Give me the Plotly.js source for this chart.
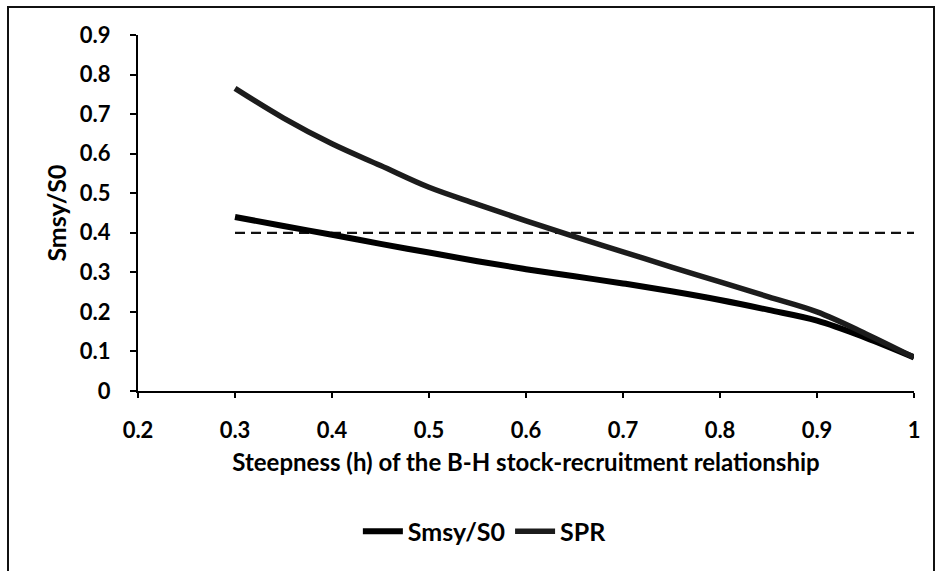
<!DOCTYPE html>
<html>
<head>
<meta charset="utf-8">
<script src="https://cdn.plot.ly/plotly-3.0.1.min.js"></script>
<style>
html,body{margin:0;padding:0;background:#fff;}
#frame{position:absolute;left:7px;top:6px;width:928px;height:580px;border:2px solid #111;border-bottom:none;box-sizing:border-box;}
#chart{position:absolute;left:0;top:0;width:941px;height:571px;}
</style>
</head>
<body>
<div id="frame"></div>
<div id="chart"></div>
<script>
const steepness = [0.3,0.35,0.4,0.45,0.5,0.55,0.6,0.65,0.7,0.75,0.8,0.85,0.9,0.95,1.0];
const smsyS0 = [0.44,0.417,0.395,0.372,0.35,0.328,0.308,0.29,0.272,0.252,0.23,0.205,0.178,0.135,0.085];
const spr = [0.765,0.69,0.625,0.57,0.515,0.472,0.43,0.39,0.352,0.313,0.276,0.238,0.2,0.145,0.085];
const refX = [0.3,1.0];
const refY = [0.4,0.4];
const xTicks = [0.2,0.3,0.4,0.5,0.6,0.7,0.8,0.9,1];
const xTickText = ['0.2','0.3','0.4','0.5','0.6','0.7','0.8','0.9','1'];
const yTicks = [0,0.1,0.2,0.3,0.4,0.5,0.6,0.7,0.8,0.9];
const yTickText = ['0','0.1','0.2','0.3','0.4','0.5','0.6','0.7','0.8','0.9'];

const font = 'Lato, "Open Sans", sans-serif';
const traces = [
  {x: refX, y: refY, mode:'lines', line:{color:'#111', width:2.2, dash:'10px,6px'}, showlegend:false, hoverinfo:'skip'},
  {x: steepness, y: smsyS0, name:'Smsy/S0', mode:'lines', line:{color:'#000', width:6, shape:'spline'}},
  {x: steepness, y: spr, name:'SPR', mode:'lines', line:{color:'#1c1c1c', width:5.5, shape:'spline'}}
];
const layout = {
  width:941, height:571,
  margin:{l:138, r:27, t:35, b:180},
  paper_bgcolor:'rgba(0,0,0,0)', plot_bgcolor:'rgba(0,0,0,0)',
  font:{family:font, color:'#000'},
  showlegend:true,
  legend:{orientation:'h', x:0.447, xanchor:'center', y:-0.395, yanchor:'middle',
          font:{family:font, size:25, weight:'bold'}, itemwidth:40, tracegroupgap:0},
  xaxis:{range:[0.2,1.0], tickvals:xTicks, ticktext:xTickText, showgrid:false, zeroline:false,
         showline:true, linecolor:'#000', linewidth:2, ticks:'outside', ticklen:5, tickwidth:2, tickcolor:'#000',
         ticklabelstandoff:14,
         tickfont:{family:font, size:22, weight:'bold'}, fixedrange:true,
         title:{text:'Steepness (h) of the B-H stock-recruitment relationship', font:{family:font, size:24, weight:'bold'}, standoff:12}},
  yaxis:{range:[0,0.9], tickvals:yTicks, ticktext:yTickText, showgrid:false, zeroline:false,
         showline:true, linecolor:'#000', linewidth:2, ticks:'outside', ticklen:6, tickwidth:2, tickcolor:'#000',
         ticklabelstandoff:15,
         tickfont:{family:font, size:22, weight:'bold'}, fixedrange:true,
         title:{text:'Smsy/S0', font:{family:font, size:25, weight:'bold'}, standoff:6}}
};
Plotly.newPlot('chart', traces, layout, {displayModeBar:false, staticPlot:true});
</script>
</body>
</html>
